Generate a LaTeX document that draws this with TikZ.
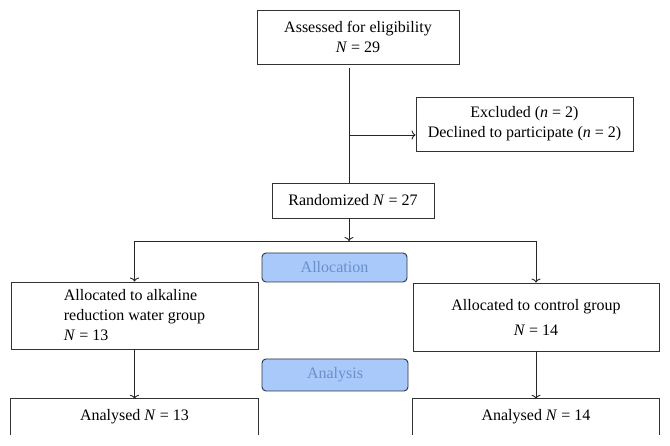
\documentclass[tikz,border=0pt]{standalone}
\usepackage{fontspec}
\setmainfont{Liberation Serif}
\usetikzlibrary{arrows.meta,calc}
\definecolor{phfill}{HTML}{A9C9FA}
\definecolor{phtext}{HTML}{6A8FCB}
\definecolor{phline}{HTML}{2B3440}
\definecolor{boxline}{HTML}{333333}
\begin{document}
\begin{tikzpicture}[x=1pt,y=-1pt,
  every node/.style={font=\fontsize{16}{20}\selectfont, inner sep=0pt},
  box/.style={draw=boxline, line width=0.9pt, align=center},
  openbox/.style={align=center},
  phase/.style={draw=phline, fill=phfill, line width=0.9pt, rounded corners=4pt, text=phtext},
  conn/.style={draw=black!85, line width=0.9pt},
  arr/.style={conn, -{To[length=4pt,width=9pt]}}
]
\useasboundingbox (0,0) rectangle (670,446);
\fill[white] (0,0) rectangle (670,446);

\node[box, minimum width=202pt, minimum height=54pt] (assess) at (358,37)
  {Assessed for eligibility\\ \textit{N} = 29};
\node[box, minimum width=217pt, minimum height=54pt] (excl) at (524.5,124)
  {Excluded (\textit{n} = 2)\\ Declined to participate (\textit{n} = 2)};
\node[box, minimum width=162pt, minimum height=35pt] (rand) at (353,200.5)
  {Randomized \textit{N} = 27};
\node[phase, minimum width=145pt, minimum height=29pt] (alloc) at (334.5,267.5)
  {Allocation};
\node[box, minimum width=247pt, minimum height=67pt, align=left] (left) at (134.5,315.5)
  {Allocated to alkaline\\ reduction water group\\ \textit{N} = 13};
\node[box, minimum width=246pt, minimum height=68pt, font=\fontsize{16}{25}\selectfont] (right) at (536,317)
  {Allocated to control group\\ \textit{N} = 14};
\node[phase, minimum width=146pt, minimum height=32pt] (anal) at (335,375)
  {Analysis};
\node[openbox, minimum width=247pt, minimum height=36pt] (ana1) at (134.5,417)
  {Analysed \textit{N} = 13};
\node[openbox, minimum width=246pt, minimum height=36pt] (ana2) at (536,417)
  {Analysed \textit{N} = 14};
\draw[boxline, line width=0.9pt] (ana1.south west) -- (ana1.north west) -- (ana1.north east) -- (ana1.south east);
\draw[boxline, line width=0.9pt] (ana2.south west) -- (ana2.north west) -- (ana2.north east) -- (ana2.south east);

% connectors
\coordinate (top) at (349,68);
\coordinate (br) at (349,135);
\coordinate (split) at (349,241);
\coordinate (lsplit) at (ana1.north |- split);
\coordinate (rsplit) at (ana2.north |- split);
\draw[conn] (top) -- (top |- rand.north);
\draw[arr] (br) -- (br -| excl.west);
\draw[arr] (top |- rand.south) -- (split);
\draw[conn] (lsplit) -- (rsplit);
\draw[arr] (lsplit) -- (lsplit |- left.north);
\draw[arr] (rsplit) -- (rsplit |- right.north);
\draw[arr] (left.south) -- (ana1.north);
\draw[arr] (right.south) -- (ana2.north);
\end{tikzpicture}
\end{document}
